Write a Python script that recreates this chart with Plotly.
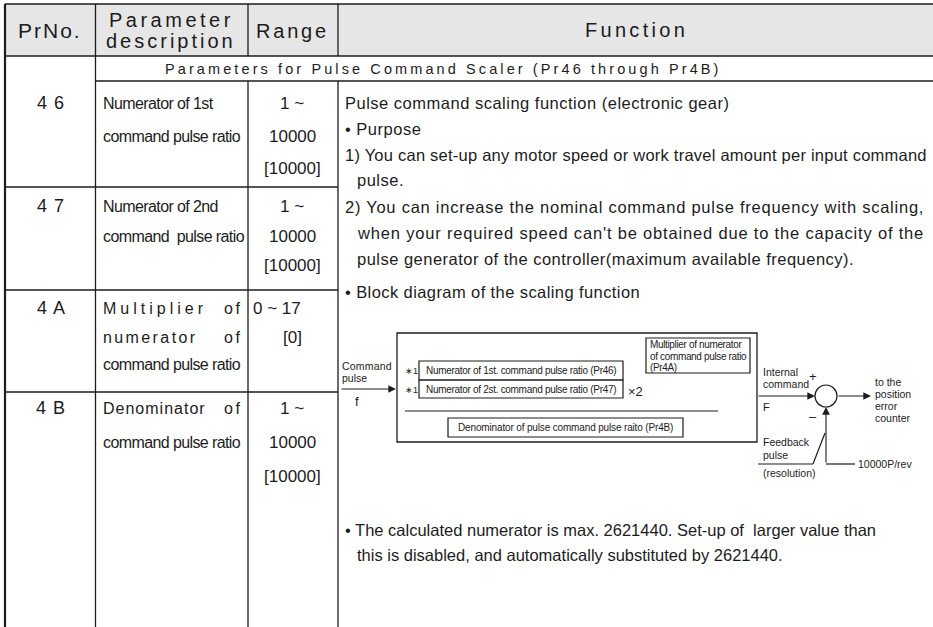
import plotly.graph_objects as go

# ---------------- data (text content) ----------------
header_labels = ["PrNo.", "Parameter", "description", "Range", "Function"]
section_title = "Parameters for Pulse Command Scaler (Pr46 through Pr4B)"
pr_numbers = ["4 6", "4 7", "4 A", "4 B"]
descriptions = [
    ["Numerator of 1st", "command pulse ratio"],
    ["Numerator of 2nd", "command  pulse ratio"],
    ["Multiplier|of", "numerator|of", "command pulse ratio"],
    ["Denominator|of", "command pulse ratio"],
]
ranges = [
    ["1 ~", "10000", "[10000]"],
    ["1 ~", "10000", "[10000]"],
    ["0 ~ 17", "[0]"],
    ["1 ~", "10000", "[10000]"],
]
function_lines = [
    "Pulse command scaling function (electronic gear)",
    "• Purpose",
    "1) You can set-up any motor speed or work travel amount per input command",
    "pulse.",
    "2) You can increase the nominal command pulse frequency with scaling,",
    "when your required speed can't be obtained due to the capacity of the",
    "pulse generator of the controller(maximum available frequency).",
    "• Block diagram of the scaling function",
]
note_lines = [
    "• The calculated numerator is max. 2621440. Set-up of  larger value than",
    "this is disabled, and automatically substituted by 2621440.",
]
diagram_input = ["Command", "pulse", "f"]
diagram_numerators = ["Numerator of 1st. command pulse ratio (Pr46)",
                      "Numerator of 2st. command pulse ratio (Pr47)"]
diagram_star = "∗1"
diagram_times = "×2"
diagram_multiplier = ["Multiplier of numerator", "of command pulse ratio", "(Pr4A)"]
diagram_denominator = "Denominator of pulse command pulse raito (Pr4B)"
diagram_internal = ["Internal", "command", "F"]
diagram_signs = ["+", "–"]
diagram_output = ["to the", "position", "error", "counter"]
diagram_feedback = ["Feedback", "pulse", "(resolution)"]
diagram_resolution = "10000P/rev"

# ---------------- styling ----------------
INK = "#1c1c1c"
ARIAL = "Liberation Sans, Arial, sans-serif"

shapes = []
annotations = []


def line(x0, y0, x1, y1, w=1.3):
    shapes.append(dict(type="line", xref="x", yref="y", x0=x0, y0=y0, x1=x1, y1=y1,
                       line=dict(color=INK, width=w)))


def rect(x0, y0, x1, y1, w=1.2, fill=None, layer="above"):
    shapes.append(dict(type="rect", xref="x", yref="y", x0=x0, y0=y0, x1=x1, y1=y1,
                       line=dict(color=INK, width=w) if w else dict(width=0),
                       fillcolor=fill if fill else "rgba(0,0,0,0)", layer=layer))


def txt(x, y, s, size, anchor="left", spacing=None, family=ARIAL):
    if spacing is not None:
        s = '<span style="letter-spacing:%spx">%s</span>' % (spacing, s)
    annotations.append(dict(x=x, y=y, xref="x", yref="y", text=s, showarrow=False,
                            xanchor=anchor, yanchor="middle",
                            font=dict(size=size, family=family, color=INK)))


def arrow(x0, y0, x1, y1):
    annotations.append(dict(x=x1, y=y1, ax=x0, ay=y0, xref="x", yref="y",
                            axref="x", ayref="y", text="", showarrow=True,
                            arrowhead=2, arrowsize=1.4, arrowwidth=1.1,
                            arrowcolor=INK, standoff=0, startstandoff=0))


# ---------------- table grid ----------------
TOP, HEAD_B, SEC_B = 4, 56, 81
XL, C1, C2, C3, XR = 5, 95.5, 248, 338, 933
row_bounds = [187, 290, 392]

rect(XL, TOP, XR, HEAD_B, w=0, fill="#e6e6e6", layer="below")
line(XL, TOP, XR, TOP, 1.6)
line(XL, HEAD_B, XR, HEAD_B, 1.3)
line(C1, SEC_B, XR, SEC_B, 1.3)
line(XL, TOP, XL, 627, 2.2)
line(C1, TOP, C1, 627, 1.3)
for cx in (C2, C3):
    line(cx, TOP, cx, HEAD_B, 1.3)
    line(cx, SEC_B, cx, 627, 1.3)
for ry in row_bounds:
    line(XL, ry, C3, ry, 1.3)

# ---------------- header ----------------
txt(50, 30, header_labels[0], 21, "center", spacing=2)
txt(171, 20, header_labels[1], 20, "center", spacing=3.5)
txt(171, 41, header_labels[2], 20, "center", spacing=3)
txt(292, 31, header_labels[3], 20, "center", spacing=2.8)
txt(636, 30, header_labels[4], 20, "center", spacing=3.3)

txt(443, 69, section_title, 14.5, "center", spacing=3.1)

# ---------------- parameter rows ----------------
row_line_y = [
    [103, 136, 168],
    [206, 236, 265],
    [308, 337, 364],
    [408, 442, 476],
]
just_sp = {"Multiplier": 4.0, "numerator": 2.4, "Denominator": 1.0}
for i, pr in enumerate(pr_numbers):
    txt(51, row_line_y[i][0], pr, 18, "center", spacing=1)
    for j, d in enumerate(descriptions[i]):
        yy = row_line_y[i][j]
        if "|" in d:
            w1, w2 = d.split("|")
            txt(101, yy, w1, 16, "left", spacing=just_sp[w1])
            txt(244, yy, w2, 16, "right", spacing=2.5)
        else:
            txt(101, yy, d, 16, "left", spacing=-0.6)
    for j, r in enumerate(ranges[i]):
        yy = row_line_y[i][j]
        if r.startswith("0 ~"):
            txt(251, yy, r, 17, "left")
        else:
            txt(292, yy, r, 17, "center")

# ---------------- function column text ----------------
fx, fx2 = 343, 355
func_pos = [(fx, 103), (fx, 129), (fx, 155), (fx2, 180), (fx, 207), (fx2, 233), (fx2, 259), (fx, 292)]
func_sp = [0.5, 0.5, 0.23, 0.5, 0.75, 0.82, 0.48, 0.41]
for (x, y), sp, s in zip(func_pos, func_sp, function_lines):
    txt(x, y, s, 16.5, "left", spacing=sp)
txt(fx, 530, note_lines[0], 16.5, "left")
txt(fx2, 555, note_lines[1], 16.5, "left")

# ---------------- block diagram ----------------
DS = 10.5
# input
txt(340, 366, diagram_input[0], DS, "left", spacing=0.2)
txt(340, 378, diagram_input[1], DS, "left")
txt(357, 401, diagram_input[2], 13, "center")
arrow(340, 389, 396, 389)
# outer box
rect(397, 333, 757, 442, 1.3)
# numerator boxes
rect(419, 361, 623, 380, 1.2)
rect(419, 380, 623, 398, 1.2)
txt(521, 370.5, diagram_numerators[0], 10, "center", spacing=-0.3)
txt(521, 389, diagram_numerators[1], 10, "center", spacing=-0.3)
txt(403, 371, diagram_star, 9, "left")
txt(403, 390, diagram_star, 9, "left")
txt(635, 391, diagram_times, 13, "center")
# multiplier box
rect(646, 338, 750, 373, 1.2)
for k, s in enumerate(diagram_multiplier):
    txt(648, 344.5 + 11.5 * k, s, 10, "left", spacing=-0.35)
# fraction bar & denominator
line(405, 411, 718, 411, 1.2)
rect(448, 418, 683, 437, 1.2)
txt(565.5, 427.5, diagram_denominator, 10, "center", spacing=-0.15)
# internal command to summing point
txt(761, 372, diagram_internal[0], DS, "left")
txt(761, 384, diagram_internal[1], DS, "left")
txt(766, 407, diagram_internal[2], 11, "center")
arrow(757, 396, 815, 396)
shapes.append(dict(type="circle", xref="x", yref="y", x0=815, x1=837, y0=385, y1=407,
                   line=dict(color=INK, width=1.2)))
txt(813, 376, diagram_signs[0], 13, "center")
txt(813, 416, diagram_signs[1], 13, "center")
arrow(837, 396, 871, 396)
for k, s in enumerate(diagram_output):
    txt(873, 382 + 12 * k, s, DS, "left")
# feedback
txt(761, 442, diagram_feedback[0], DS, "left")
txt(761, 455, diagram_feedback[1], DS, "left")
txt(761, 473, diagram_feedback[2], DS, "left")
line(758, 464, 813, 464, 1.2)
line(813, 464, 825, 433, 1.2)
line(826, 464, 855, 464, 1.2)
arrow(826, 464, 826, 407)
txt(856, 464, diagram_resolution, DS, "left")

fig = go.Figure(go.Scatter(x=[0], y=[0], mode="markers", marker=dict(opacity=0),
                           hoverinfo="skip", showlegend=False))
fig.update_layout(
    width=933, height=627,
    margin=dict(l=0, r=0, t=0, b=0),
    paper_bgcolor="white", plot_bgcolor="white",
    xaxis=dict(range=[0, 933], visible=False, fixedrange=True),
    yaxis=dict(range=[627, 0], visible=False, fixedrange=True),
    shapes=shapes, annotations=annotations, showlegend=False,
)
fig.write_html(
    "out.html",
    config={"displayModeBar": False},
    post_script="document.body.style.margin='0';document.body.style.overflow='hidden';",
)
